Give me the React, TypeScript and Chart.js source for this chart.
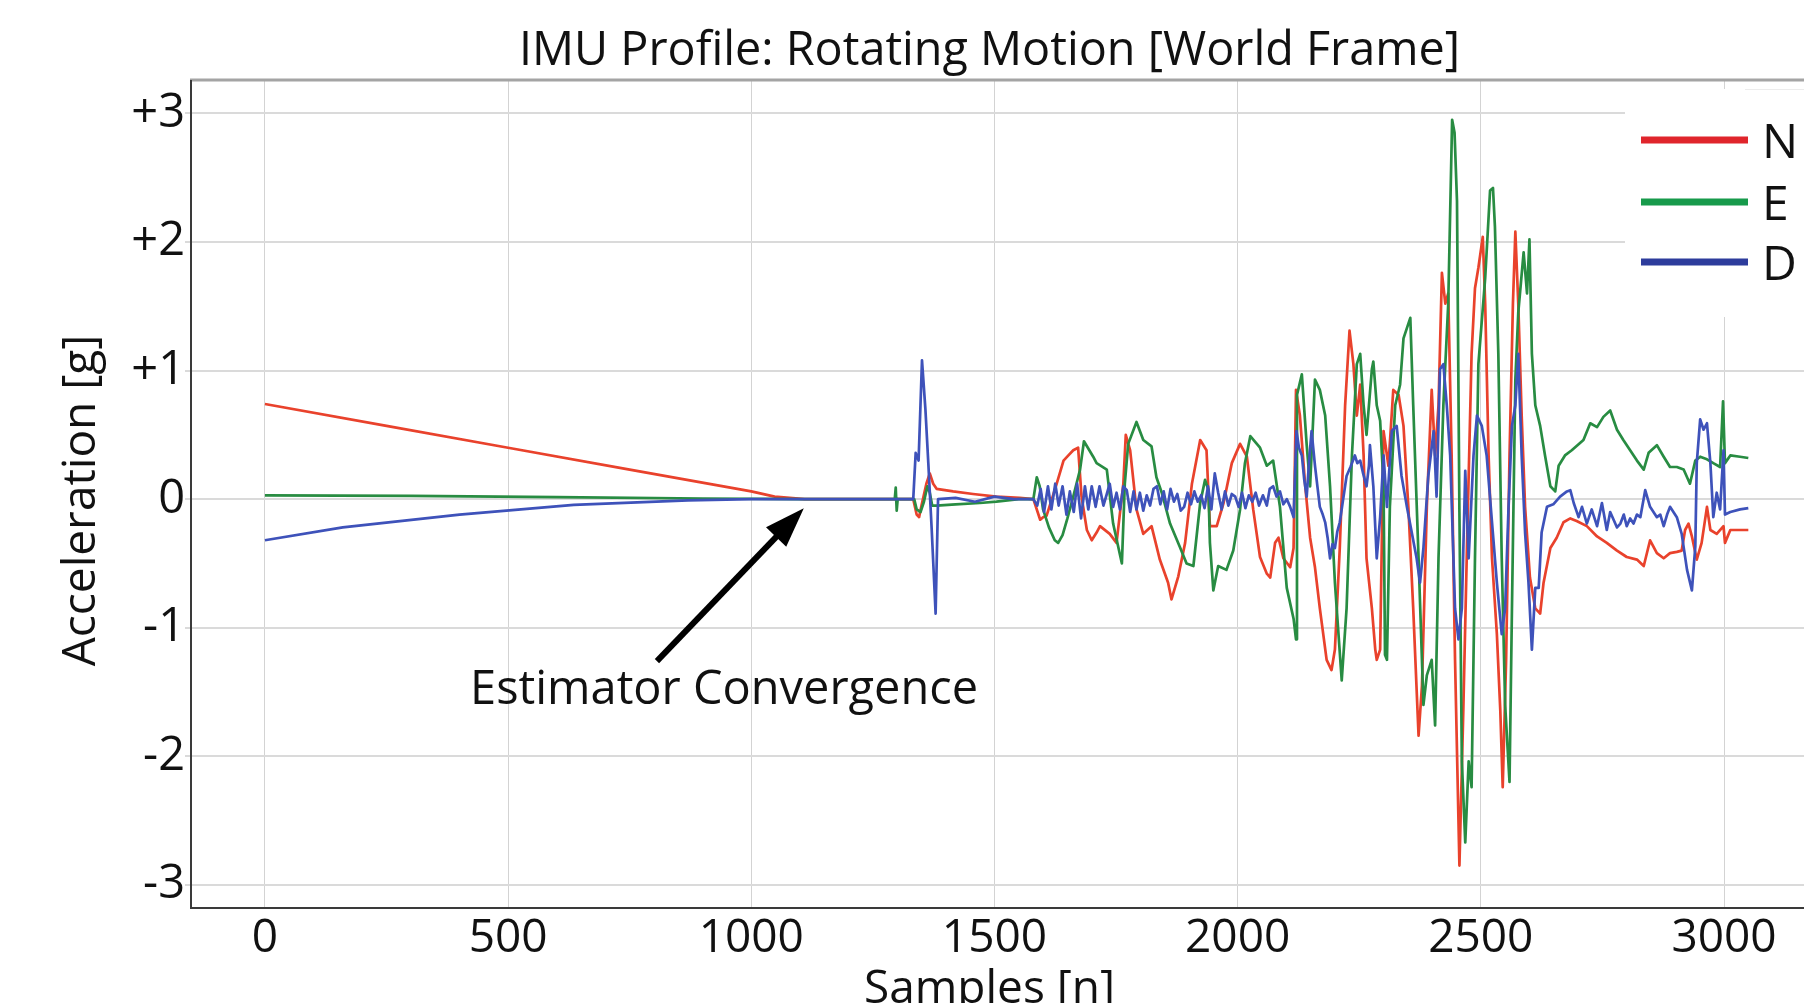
import React, { useEffect, useRef } from 'react';
import { Chart, registerables } from 'chart.js';

Chart.register(...registerables);

// ---------- data ----------
const seriesLabels = ['N', 'E', 'D'];

const nSamples = [
  0, 250, 500, 750, 1000, 1048, 1110, 1200, 1290, 1333,
  1340, 1345, 1350, 1360, 1367, 1374, 1381, 1415, 1456, 1504,
  1552, 1580, 1594, 1600, 1607, 1618, 1628, 1642, 1652, 1662,
  1672, 1679, 1690, 1700, 1710, 1717, 1737, 1751, 1765, 1770,
  1779, 1792, 1806, 1823, 1840, 1857, 1864, 1878, 1892, 1906,
  1923, 1936, 1943, 1957, 1971, 1988, 2005, 2019, 2032, 2046,
  2060, 2067, 2077, 2084, 2094, 2108, 2115, 2120, 2128, 2139,
  2149, 2159, 2169, 2183, 2193, 2200, 2210, 2221, 2230, 2238,
  2245, 2252, 2259, 2265, 2276, 2283, 2286, 2293, 2300, 2310,
  2320, 2331, 2341, 2351, 2361, 2372, 2379, 2389, 2399, 2406,
  2413, 2420, 2427, 2433, 2440, 2447, 2456, 2464, 2471, 2481,
  2488, 2495, 2504, 2509, 2516, 2523, 2533, 2540, 2545, 2552,
  2559, 2566, 2571, 2577, 2584, 2591, 2601, 2612, 2622, 2629,
  2643, 2656, 2670, 2684, 2697, 2718, 2739, 2759, 2780, 2800,
  2821, 2835, 2848, 2862, 2876, 2889, 2903, 2913, 2920, 2927,
  2934, 2944, 2954, 2965, 2972, 2985, 2999, 3002, 3013, 3033,
  3050,
];
const nValues = [
  0.74, 0.57, 0.40, 0.23, 0.06, 0.02, 0.0, 0.0, 0.0, 0.0,
  -0.12, -0.14, -0.05, 0.12, 0.2, 0.12, 0.08, 0.06, 0.04, 0.02,
  0.01, 0.0, -0.16, -0.14, -0.13, 0.0, 0.12, 0.3, 0.34, 0.38,
  0.4, 0.02, -0.24, -0.32, -0.26, -0.21, -0.27, -0.34, 0.12, 0.5,
  0.38, -0.08, -0.27, -0.21, -0.47, -0.65, -0.78, -0.6, -0.34, 0.12,
  0.46, 0.38, -0.21, -0.21, -0.03, 0.28, 0.43, 0.33, -0.08, -0.45,
  -0.58, -0.61, -0.34, -0.3, -0.46, -0.53, -0.38, 0.85, 0.65, 0.1,
  -0.3, -0.53, -0.85, -1.25, -1.33, -1.17, -0.38, 0.73, 1.31, 1.05,
  0.65, 0.89, 0.34, -0.46, -0.85, -1.17, -1.25, -1.17, 0.53, 0.26,
  0.85, 0.81, 0.57, -0.06, -0.85, -1.84, -1.45, -0.06, 0.85, 0.34,
  0.73, 1.76, 1.52, 1.6, 0.34, -1.25, -2.85, -1.64, -0.46, 1.13,
  1.64, 1.8, 2.04, 1.52, 0.34, -0.46, -1.05, -1.64, -2.24, -1.25,
  0.34, 1.52, 2.08, 1.52, 0.65, -0.06, -0.61, -0.85, -0.89, -0.65,
  -0.38, -0.3, -0.18, -0.15, -0.17, -0.21, -0.29, -0.34, -0.4, -0.45,
  -0.47, -0.52, -0.32, -0.42, -0.46, -0.42, -0.41, -0.4, -0.24, -0.19,
  -0.29, -0.47, -0.34, -0.06, -0.24, -0.27, -0.21, -0.34, -0.24, -0.24,
  -0.24,
];

const eSamples = [
  0, 300, 600, 900, 1100, 1290, 1295, 1297, 1299, 1301,
  1335, 1340, 1348, 1355, 1362, 1367, 1372, 1381, 1420, 1470,
  1504, 1550, 1580, 1587, 1593, 1600, 1612, 1624, 1631, 1640,
  1650, 1662, 1676, 1684, 1692, 1703, 1710, 1731, 1744, 1762,
  1768, 1775, 1792, 1806, 1823, 1833, 1844, 1861, 1881, 1895,
  1909, 1923, 1933, 1940, 1943, 1950, 1960, 1977, 1991, 2005,
  2015, 2026, 2046, 2060, 2073, 2087, 2101, 2115, 2120, 2122,
  2132, 2142, 2149, 2159, 2169, 2180, 2190, 2200, 2214, 2224,
  2235, 2245, 2252, 2259, 2265, 2276, 2279, 2286, 2293, 2300,
  2303, 2307, 2313, 2324, 2334, 2341, 2348, 2355, 2361, 2372,
  2382, 2389, 2399, 2406, 2413, 2423, 2433, 2441, 2446, 2451,
  2456, 2461, 2468, 2475, 2481, 2488, 2495, 2509, 2519, 2525,
  2529, 2536, 2543, 2550, 2559, 2564, 2571, 2577, 2588, 2595,
  2600, 2605, 2612, 2622, 2632, 2643, 2653, 2660, 2673, 2687,
  2711, 2725, 2739, 2752, 2766, 2780, 2793, 2807, 2821, 2835,
  2845, 2862, 2876, 2889, 2903, 2917, 2930, 2941, 2951, 2965,
  2978, 2992, 2998, 3002, 3013, 3033, 3050,
];
const eValues = [
  0.03, 0.025, 0.015, 0.005, 0.0, 0.0, 0.0, 0.09, -0.09, 0.0,
  0.0, -0.08, -0.1, -0.02, 0.1, 0.05, -0.05, -0.05, -0.04, -0.03,
  -0.02, 0.0, 0.0, 0.17, 0.1, -0.08, -0.22, -0.32, -0.34, -0.28,
  -0.15, 0.02, 0.23, 0.45, 0.4, 0.33, 0.28, 0.23, -0.19, -0.5,
  0.12, 0.43, 0.6, 0.46, 0.41, 0.17, 0.05, -0.19, -0.37, -0.5,
  -0.52, -0.03, 0.15, 0.07, -0.34, -0.71, -0.52, -0.55, -0.4, -0.08,
  0.28, 0.49, 0.4, 0.26, 0.3, -0.06, -0.69, -0.93, -1.09, 0.81,
  0.97, 0.42, 0.1, 0.93, 0.85, 0.65, 0.1, -0.65, -1.41, -0.85,
  0.34, 1.05, 1.13, 0.73, 0.5, 1.01, 1.07, 0.73, 0.61, 0.1,
  -1.21, -1.25, -0.06, 0.73, 0.89, 1.25, 1.33, 1.41, 0.73, -0.46,
  -1.6, -1.37, -1.25, -1.76, -0.46, 0.73, 1.52, 2.95, 2.85, 2.32,
  -0.1, -2.04, -2.67, -2.04, -2.24, -0.46, 1.05, 1.72, 2.4, 2.42,
  2.12, 1.13, -0.46, -1.6, -2.2, -0.85, 0.93, 1.45, 1.92, 1.6,
  2.02, 1.13, 0.73, 0.57, 0.34, 0.1, 0.06, 0.26, 0.34, 0.38,
  0.46, 0.59, 0.56, 0.64, 0.69, 0.54, 0.46, 0.38, 0.3, 0.23,
  0.36, 0.42, 0.33, 0.25, 0.25, 0.23, 0.12, 0.3, 0.33, 0.31,
  0.28, 0.25, 0.76, 0.28, 0.34, 0.33, 0.32,
];

const dSamples = [
  0, 160, 400, 635, 870, 1000, 1290, 1333, 1338, 1344,
  1351, 1358, 1364, 1371, 1379, 1384, 1420, 1460, 1500, 1540,
  1580, 1588, 1595, 1602, 1610, 1617, 1625, 1632, 1640, 1648,
  1655, 1663, 1670, 1678, 1686, 1693, 1700, 1708, 1716, 1724,
  1731, 1737, 1744, 1751, 1758, 1765, 1772, 1779, 1786, 1792,
  1799, 1806, 1813, 1820, 1827, 1834, 1841, 1848, 1855, 1862,
  1869, 1876, 1883, 1890, 1897, 1904, 1911, 1918, 1925, 1932,
  1939, 1946, 1953, 1960, 1967, 1974, 1981, 1988, 1995, 2002,
  2009, 2016, 2023, 2030, 2037, 2044, 2052, 2060, 2066, 2073,
  2080, 2087, 2094, 2101, 2108, 2115, 2121, 2126, 2132, 2137,
  2142, 2147, 2152, 2159, 2164, 2169, 2175, 2180, 2185, 2190,
  2195, 2200, 2205, 2210, 2217, 2224, 2232, 2241, 2246, 2252,
  2258, 2265, 2270, 2272, 2279, 2286, 2293, 2300, 2307, 2317,
  2327, 2337, 2348, 2358, 2368, 2375, 2382, 2392, 2403, 2409,
  2416, 2423, 2430, 2437, 2447, 2454, 2461, 2468, 2475, 2481,
  2485, 2492, 2502, 2512, 2523, 2533, 2543, 2550, 2557, 2564,
  2571, 2577, 2584, 2591, 2598, 2605, 2612, 2619, 2625, 2636,
  2649, 2663, 2677, 2684, 2691, 2701, 2708, 2718, 2728, 2739,
  2749, 2759, 2766, 2773, 2780, 2787, 2794, 2800, 2807, 2814,
  2821, 2828, 2838, 2848, 2855, 2862, 2869, 2876, 2883, 2889,
  2896, 2903, 2913, 2924, 2934, 2941, 2944, 2951, 2958, 2965,
  2972, 2978, 2985, 2992, 2999, 3002, 3013, 3033, 3050,
];
const dValues = [
  -0.32, -0.22, -0.12, -0.045, -0.01, 0.0, 0.0, 0.0, 0.36, 0.3,
  1.08, 0.7, 0.28, -0.24, -0.89, 0.0, 0.01, -0.02, 0.02, 0.0,
  0.0, -0.05, 0.08, -0.1, 0.1, -0.08, 0.12, -0.05, 0.1, -0.12,
  0.06, -0.1, 0.12, -0.15, 0.1, -0.08, 0.1, -0.06, 0.1, -0.05,
  0.04, 0.12, -0.06, 0.05, -0.08, 0.1, 0.07, -0.1, 0.06, -0.08,
  0.05, -0.09, 0.03, -0.05, 0.08, 0.1, -0.04, 0.06, -0.08, 0.08,
  -0.02, 0.04, -0.09, -0.06, 0.05, -0.04, 0.06, -0.02, 0.03, -0.07,
  0.1, -0.08, 0.2, 0.05, -0.08, 0.06, -0.05, 0.04, 0.02, -0.06,
  0.05, -0.07, 0.03, -0.02, 0.05, -0.05, 0.03, -0.05, 0.08, 0.1,
  0.02, 0.06, -0.04, 0.0, -0.06, -0.14, 0.53, 0.4, 0.34, 0.15,
  0.02, 0.3, 0.53, 0.26, 0.1, -0.06, -0.12, -0.18, -0.3, -0.46,
  -0.35, -0.38, -0.25, -0.18, 0.0, 0.18, 0.25, 0.34, 0.28, 0.3,
  0.2, 0.1, 0.26, 0.42, 0.1, -0.46, -0.14, 0.34, -0.06, 0.53,
  0.57, 0.18, -0.06, -0.26, -0.46, -0.65, -0.38, 0.18, 0.53, 0.02,
  1.01, 1.05, 0.73, 0.34, -0.85, -1.09, -0.85, 0.22, -0.46, 0.02,
  0.34, 0.65, 0.57, 0.34, -0.18, -0.65, -1.05, -0.85, -0.06, 0.57,
  0.73, 1.13, 0.34, -0.26, -0.65, -1.17, -0.69, -0.69, -0.26, -0.06,
  -0.04, 0.02, 0.06, 0.07, -0.03, -0.14, -0.06, -0.19, -0.08, -0.21,
  -0.03, -0.24, -0.1, -0.16, -0.22, -0.19, -0.12, -0.21, -0.15, -0.19,
  -0.12, -0.14, 0.07, -0.06, -0.1, -0.14, -0.12, -0.21, -0.12, -0.06,
  -0.1, -0.14, -0.27, -0.55, -0.71, -0.37, 0.28, 0.62, 0.54, 0.59,
  0.28, -0.14, 0.05, -0.08, 0.38, -0.12, -0.1, -0.08, -0.07,
];

const xTickValues = [0, 500, 1000, 1500, 2000, 2500, 3000];
const yTickValues = [-3, -2, -1, 0, 1, 2, 3];
const X_MIN = -152;
const X_MAX = 3220;
const Y_MIN = -3.18;
const Y_MAX = 3.26;

// annotation (data coordinates)
const annotationText = 'Estimator Convergence';
const arrowFrom = { x: 806, y: -1.26 };
const arrowTo = { x: 1108, y: -0.07 };
const annotationAt = { x: 944, y: -1.59 };

const titleText = 'IMU Profile: Rotating Motion [World Frame]';
const xTitle = 'Samples [n]';
const yTitle = 'Acceleration [g]';

// ---------- styles ----------
const FONT = '"Open Sans", "Noto Sans", sans-serif';
const lineColors = ['rgb(233,66,44)', 'rgb(40,140,66)', 'rgb(62,82,186)'];
const legendColors = ['#e0252c', '#179a4b', '#2d3c9c'];

const overlayPlugin = {
  id: 'overlay',
  afterDatasetsDraw(chart: any) {
    const { ctx, chartArea: a, scales } = chart;
    const xs = scales.x;
    const ys = scales.y;
    ctx.save();

    // frame
    ctx.lineCap = 'butt';
    ctx.strokeStyle = '#a4a4a4';
    ctx.lineWidth = 3;
    ctx.beginPath();
    ctx.moveTo(a.left - 1, a.top);
    ctx.lineTo(a.right, a.top);
    ctx.stroke();
    ctx.strokeStyle = '#3a3a3a';
    ctx.lineWidth = 2;
    ctx.beginPath();
    ctx.moveTo(a.left, a.top);
    ctx.lineTo(a.left, a.bottom);
    ctx.lineTo(a.right, a.bottom);
    ctx.stroke();

    // legend box
    const bx = 1625, by = 89;
    ctx.fillStyle = '#ffffff';
    ctx.fillRect(bx, by, 300, 228);
    ctx.strokeStyle = '#ececec';
    ctx.lineWidth = 1;
    ctx.beginPath();
    ctx.moveTo(bx + 120, by + 0.5);
    ctx.lineTo(bx + 300, by + 0.5);
    ctx.stroke();
    const rows = [140, 202, 262];
    chart.data.datasets.forEach((ds: any, i: number) => {
      const ry = rows[i];
      ctx.strokeStyle = legendColors[i];
      ctx.lineWidth = 7;
      ctx.beginPath();
      ctx.moveTo(1641, ry);
      ctx.lineTo(1748, ry);
      ctx.stroke();
      ctx.fillStyle = '#111';
      ctx.font = `48px ${FONT}`;
      ctx.textAlign = 'left';
      ctx.textBaseline = 'alphabetic';
      ctx.fillText(ds.label, 1762, ry + 18);
    });

    // annotation arrow
    const x0 = xs.getPixelForValue(arrowFrom.x);
    const y0 = ys.getPixelForValue(arrowFrom.y);
    const x1 = xs.getPixelForValue(arrowTo.x);
    const y1 = ys.getPixelForValue(arrowTo.y);
    const ang = Math.atan2(y1 - y0, x1 - x0);
    const headLen = 40;
    const headHalf = 14;
    const hbx = x1 - headLen * Math.cos(ang);
    const hby = y1 - headLen * Math.sin(ang);
    ctx.strokeStyle = '#000';
    ctx.lineWidth = 6;
    ctx.beginPath();
    ctx.moveTo(x0, y0);
    ctx.lineTo(hbx + 4 * Math.cos(ang), hby + 4 * Math.sin(ang));
    ctx.stroke();
    ctx.fillStyle = '#000';
    ctx.beginPath();
    ctx.moveTo(x1, y1);
    ctx.lineTo(hbx + headHalf * Math.sin(ang), hby - headHalf * Math.cos(ang));
    ctx.lineTo(hbx - headHalf * Math.sin(ang), hby + headHalf * Math.cos(ang));
    ctx.closePath();
    ctx.fill();

    ctx.fillStyle = '#111';
    ctx.font = `48px ${FONT}`;
    ctx.textAlign = 'center';
    ctx.textBaseline = 'alphabetic';
    ctx.fillText(
      annotationText,
      xs.getPixelForValue(annotationAt.x),
      ys.getPixelForValue(annotationAt.y),
      508
    );

    // titles
    ctx.font = `47px ${FONT}`;
    ctx.fillText(titleText, 989.5, 65, 941);
    ctx.font = `46px ${FONT}`;
    ctx.fillText(xTitle, 989.5, 1003, 253);
    ctx.save();
    ctx.translate(95, 500.5);
    ctx.rotate(-Math.PI / 2);
    ctx.fillText(yTitle, 0, 0, 345);
    ctx.restore();

    ctx.restore();
  },
};

export default function App() {
  const ref = useRef<HTMLCanvasElement>(null);
  useEffect(() => {
    const canvas = ref.current;
    if (!canvas) return;
    const mk = (s: number[], v: number[]) => s.map((x, i) => ({ x, y: v[i] }));
    const chart = new Chart(canvas, {
      type: 'line',
      data: {
        datasets: [
          { label: seriesLabels[0], data: mk(nSamples, nValues), borderColor: lineColors[0], order: 2 },
          { label: seriesLabels[1], data: mk(eSamples, eValues), borderColor: lineColors[1], order: 1 },
          { label: seriesLabels[2], data: mk(dSamples, dValues), borderColor: lineColors[2], order: 0 },
        ],
      },
      options: {
        responsive: false,
        animation: false,
        devicePixelRatio: 1,
        layout: { padding: { left: 0, top: 80, right: 69, bottom: 0 } },
        elements: {
          point: { radius: 0 },
          line: { borderWidth: 2.7, tension: 0, fill: false, borderJoinStyle: 'round' },
        },
        plugins: {
          legend: { display: false },
          title: { display: false },
          tooltip: { enabled: false },
        },
        scales: {
          x: {
            type: 'linear',
            min: X_MIN,
            max: X_MAX,
            afterFit: (s: any) => {
              s.height = 132;
            },
            afterBuildTicks: (s: any) => {
              s.ticks = xTickValues.map((value) => ({ value }));
            },
            ticks: {
              autoSkip: false,
              maxRotation: 0,
              padding: 3,
              color: '#111',
              font: { family: FONT, size: 46 },
              callback: (v: any) => String(v),
            },
            grid: { color: '#d3d3d3', lineWidth: 1, drawTicks: false },
            border: { display: false },
          },
          y: {
            type: 'linear',
            min: Y_MIN,
            max: Y_MAX,
            afterFit: (s: any) => {
              s.width = 191;
            },
            afterBuildTicks: (s: any) => {
              s.ticks = yTickValues.map((value) => ({ value }));
            },
            ticks: {
              autoSkip: false,
              padding: 0,
              color: '#111',
              font: { family: FONT, size: 47 },
              callback: (v: any) => (v > 0 ? '+' + v : String(v)),
            },
            grid: { color: '#dadada', lineWidth: 2, tickLength: 6 },
            border: { display: false },
          },
        },
      },
      plugins: [overlayPlugin],
    } as any);
    return () => chart.destroy();
  }, []);

  return (
    <div
      style={{
        position: 'fixed',
        left: 0,
        top: 0,
        width: 1804,
        height: 1003,
        overflow: 'hidden',
        background: '#ffffff',
      }}
    >
      <canvas ref={ref} width={1900} height={1040} style={{ display: 'block' }} />
    </div>
  );
}
